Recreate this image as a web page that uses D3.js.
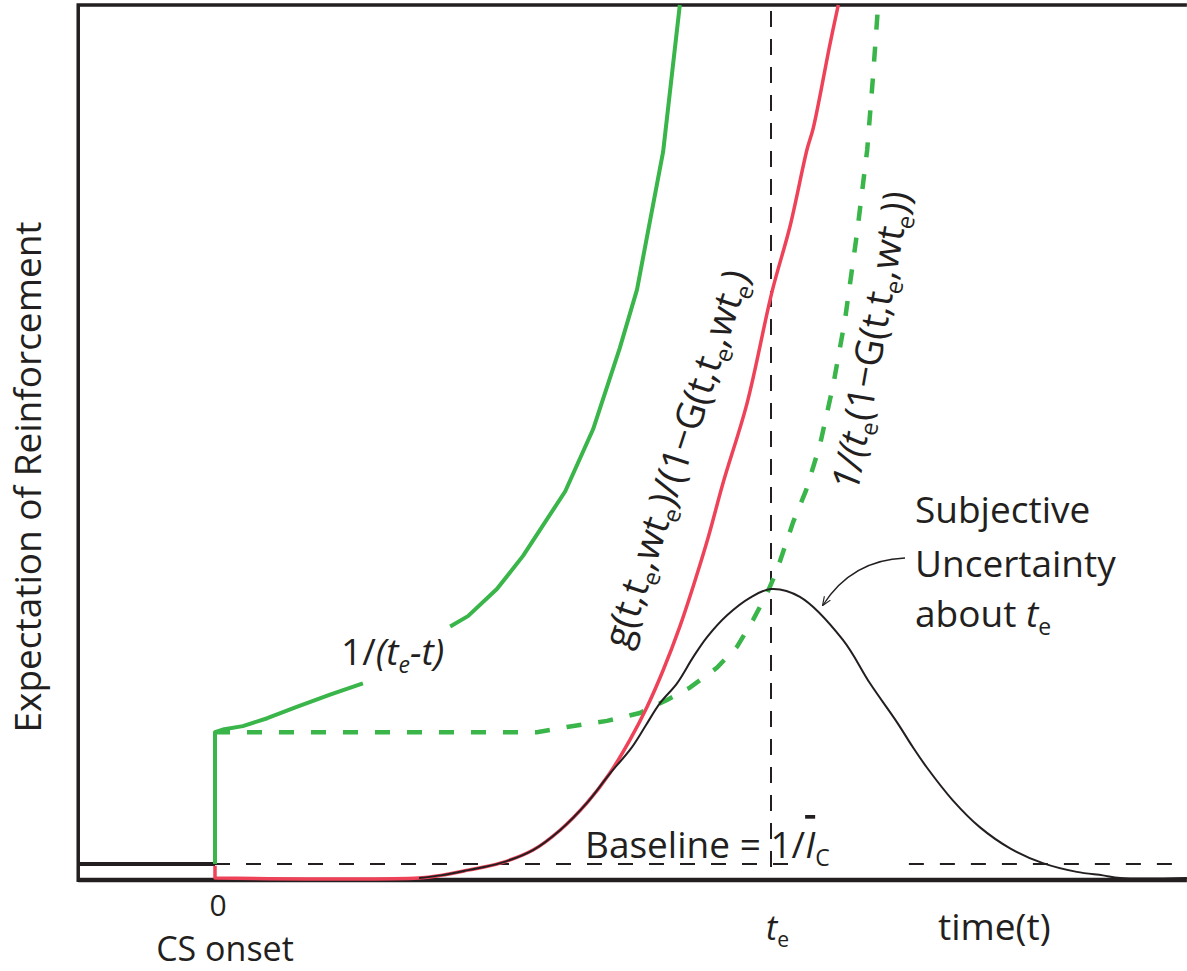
<!DOCTYPE html>
<html><head><meta charset="utf-8">
<script src="https://cdn.jsdelivr.net/npm/d3@7"></script>
<style>
body{margin:0;background:#fff}
svg{display:block}
text{font-family:"Open Sans",sans-serif;fill:#231f20}
</style></head>
<body><svg id="chart" width="1187" height="971"></svg>
<script>
// ---- data (time in units where t_e = 100; expectation in arbitrary units) ----
const te = 100;
const tMin = -24.6, tMax = 174.8;
const baselineValue = 1.6;

const preCST = [tMin, 0];
const baselineDashT1 = [0, 105.2];
const baselineDashT2 = [124.8, tMax];

// 1/(te - t) : solid green (two pieces, interrupted by its label)
const invGreenT1 = [0, 0, 1.4, 5.0, 9.4, 14.7, 20.7, 26.6];
const invGreenY1 = [1.6, 16.7, 17.0, 17.4, 18.3, 19.6, 21.0, 22.3];
const invGreenT2 = [42.3, 45.5, 50.7, 55.4, 63.0, 68.0, 72.8, 75.9, 80.6, 83.6];
const invGreenY2 = [28.8, 30.0, 33.1, 36.9, 44.3, 51.4, 60.7, 67.4, 83.2, 100];

// 1/(te(1-G)) : dashed green
const survT = [0, 57.9, 63.3, 70.5, 76.4, 81.3, 85.4, 90.3, 93.9, 96.8, 99.3, 101.1, 104.0, 106.3, 108.8, 111.2, 113.3, 115.5, 117.3, 118.3, 119.2];
const survY = [16.7, 16.7, 17.3, 18.0, 18.9, 20.4, 21.8, 24.1, 26.5, 29.6, 32.6, 35.3, 40.8, 44.4, 49.6, 56.5, 63.9, 74.0, 83.4, 91.4, 99.4];

// g/(1-G) : hazard, red
const hazardT = [0, 0, 36.7, 40.6, 45.5, 51.3, 57.2, 62.1, 66.9, 71.0, 74.6, 77.7, 80.6, 83.6, 86.0, 88.7, 91.4, 95.7, 100.2, 103.4, 106.5, 107.6, 110.6, 112.1];
const hazardY = [1.4, 0, 0, 0.3, 0.9, 1.7, 3.2, 5.5, 8.6, 12.0, 15.8, 19.6, 23.8, 28.8, 33.4, 39.0, 45.3, 54.4, 67.2, 74.6, 83.5, 85.9, 95.5, 100];

// subjective uncertainty about te : black
const uncT = [36.7, 40.6, 45.5, 51.3, 57.2, 62.1, 66.9, 70.7, 75.0, 77.5, 80.0, 83.1, 86.0, 88.5, 92.1, 96.2, 100, 105.2, 112.9, 117.8, 122.7, 125.5, 128.1, 132.7, 137.6, 143.0, 148.9, 155.0, 159.7, 162.8, tMax];
const uncY = [0, 0.3, 0.9, 1.7, 3.2, 5.5, 8.6, 11.7, 15.0, 17.5, 20.0, 22.3, 25.3, 27.6, 30.1, 32.1, 33.1, 32.2, 27.3, 22.3, 17.8, 15.0, 12.6, 8.9, 5.8, 3.4, 1.7, 0.7, 0.3, 0, 0];

const tickLabels = ["0", "t_e"];

// ---- drawing ----
const svg = d3.select("#chart");
const x = d3.scaleLinear().domain([0, te]).range([215, 771]);
const y = d3.scaleLinear().domain([0, 100]).range([878, 5]);
const ink = "#231f20", green = "#39b54a", red = "#ee4259";

const zip = (ts, vs) => ts.map((t, i) => [t, vs[i]]);
const line = d3.line().x(d => x(d[0])).y(d => y(d[1]));
const smooth = d3.line().x(d => x(d[0])).y(d => y(d[1])).curve(d3.curveCatmullRom.alpha(0.5));

svg.append("defs").append("marker")
  .attr("id", "arr").attr("viewBox", "0 0 10 10").attr("refX", 9).attr("refY", 5)
  .attr("markerWidth", 9).attr("markerHeight", 9).attr("orient", "auto-start-reverse")
  .attr("markerUnits", "userSpaceOnUse")
  .append("path").attr("d", "M0,1 L10,5 L0,9").attr("fill", "none").attr("stroke", ink).attr("stroke-width", 1.3);

// frame
const yBottom = y(0) + 2;
svg.append("path").attr("d", `M${x(tMin)},${yBottom + 2} V${y(100)} H${x(tMax)}`)
  .attr("fill", "none").attr("stroke", ink).attr("stroke-width", 3.5);
svg.append("line").attr("x1", x(tMin)).attr("x2", x(tMax)).attr("y1", yBottom).attr("y2", yBottom)
  .attr("stroke", ink).attr("stroke-width", 4.5);

// t_e vertical dashed
svg.append("line").attr("x1", x(te)).attr("x2", x(te)).attr("y1", y(100) + 6).attr("y2", yBottom)
  .attr("stroke", ink).attr("stroke-width", 2).attr("stroke-dasharray", "16,12");

// baseline
svg.append("path").attr("d", line(preCST.map(t => [t, baselineValue])))
  .attr("stroke", ink).attr("stroke-width", 4).attr("fill", "none");
[baselineDashT1, baselineDashT2].forEach(ts => {
  svg.append("path").attr("d", line(ts.map(t => [t, baselineValue])))
    .attr("stroke", ink).attr("stroke-width", 2).attr("fill", "none").attr("stroke-dasharray", "15,16");
});

// curves
svg.append("path").attr("d", line(zip(survT, survY))).attr("fill", "none")
  .attr("stroke", green).attr("stroke-width", 4.5).attr("stroke-dasharray", "15,17");
[[invGreenT1, invGreenY1], [invGreenT2, invGreenY2]].forEach(([ts, vs]) => {
  svg.append("path").attr("d", line(zip(ts, vs))).attr("fill", "none")
    .attr("stroke", green).attr("stroke-width", 4).attr("stroke-linejoin", "round");
});
svg.append("path").attr("d", line(zip(hazardT.slice(0, 2), hazardY.slice(0, 2))) + smooth(zip(hazardT.slice(1), hazardY.slice(1))).replace(/^M/, "L"))
  .attr("fill", "none").attr("stroke", red).attr("stroke-width", 3.5).attr("stroke-linejoin", "round");
svg.append("path").attr("d", smooth(zip(uncT, uncY))).attr("fill", "none")
  .attr("stroke", ink).attr("stroke-width", 2).attr("stroke-linejoin", "round");

// rich text helper: parts = [text, opts]
function rich(g, parts, size) {
  const t = g.append("text").attr("font-size", size);
  parts.forEach(p => {
    const [s, o] = typeof p === "string" ? [p, {}] : p;
    const ts = t.append("tspan").text(s);
    if (o.i) ts.attr("font-style", "italic");
    if (o.sub) ts.attr("font-size", size * 0.62).attr("dy", size * 0.22);
    if (o.up) ts.attr("dy", -size * 0.22);
    if (o.over) ts.style("text-decoration", "overline");
  });
  return t;
}

// axis texts
svg.append("text").attr("transform", "translate(41,477) rotate(-90)").attr("text-anchor", "middle")
  .attr("font-size", 37).text("Expectation of Reinforcement");
svg.append("text").attr("x", x(0) + 3).attr("y", 916).attr("text-anchor", "middle").attr("font-size", 30).text(tickLabels[0]);
svg.append("text").attr("x", 225).attr("y", 961).attr("text-anchor", "middle").attr("font-size", 34).text("CS onset");
rich(svg.append("g").attr("transform", `translate(${x(te) - 5},940)`), [["t", {i: 1}], ["e", {sub: 1}]], 34);
svg.append("text").attr("x", 938).attr("y", 940).attr("font-size", 37).text("time(t)");

// baseline label
rich(svg.append("g").attr("transform", "translate(585,858)"),
  ["Baseline = 1/", ["I", {i: 1, over: 1}], ["C", {sub: 1}]], 37);

// curve labels
rich(svg.append("g").attr("transform", "translate(341,665)"),
  ["1/", ["(t", {i: 1}], ["e", {i: 1, sub: 1}], ["-t)", {i: 1, up: 1}]], 37);

rich(svg.append("g").attr("transform", "translate(628,650) rotate(-72)"),
  ["g(t,t", ["e", {sub: 1}], [",wt", {up: 1}], ["e", {sub: 1}], [")/(1\u2212G(t,t", {up: 1}], ["e", {sub: 1}], [",wt", {up: 1}], ["e", {sub: 1}], [")", {up: 1}]], 38);

rich(svg.append("g").attr("transform", "translate(858,492) rotate(-80)"),
  [["1/(t", {i: 1}], ["e", {sub: 1}], ["(1\u2212G(t,t", {up: 1}], ["e", {sub: 1}], [",wt", {up: 1}], ["e", {sub: 1}], ["))", {up: 1}]], 38);

// subjective uncertainty note
svg.append("text").attr("x", 915).attr("y", 523).attr("font-size", 37).text("Subjective");
svg.append("text").attr("x", 915).attr("y", 577).attr("font-size", 37).text("Uncertainty");
rich(svg.append("g").attr("transform", "translate(915,627)"), ["about ", ["t", {i: 1}], ["e", {sub: 1}]], 37);

svg.append("path").attr("d", "M905,558 Q852,560 823,605").attr("fill", "none")
  .attr("stroke", ink).attr("stroke-width", 1.3).attr("marker-end", "url(#arr)");
</script>
</body></html>
